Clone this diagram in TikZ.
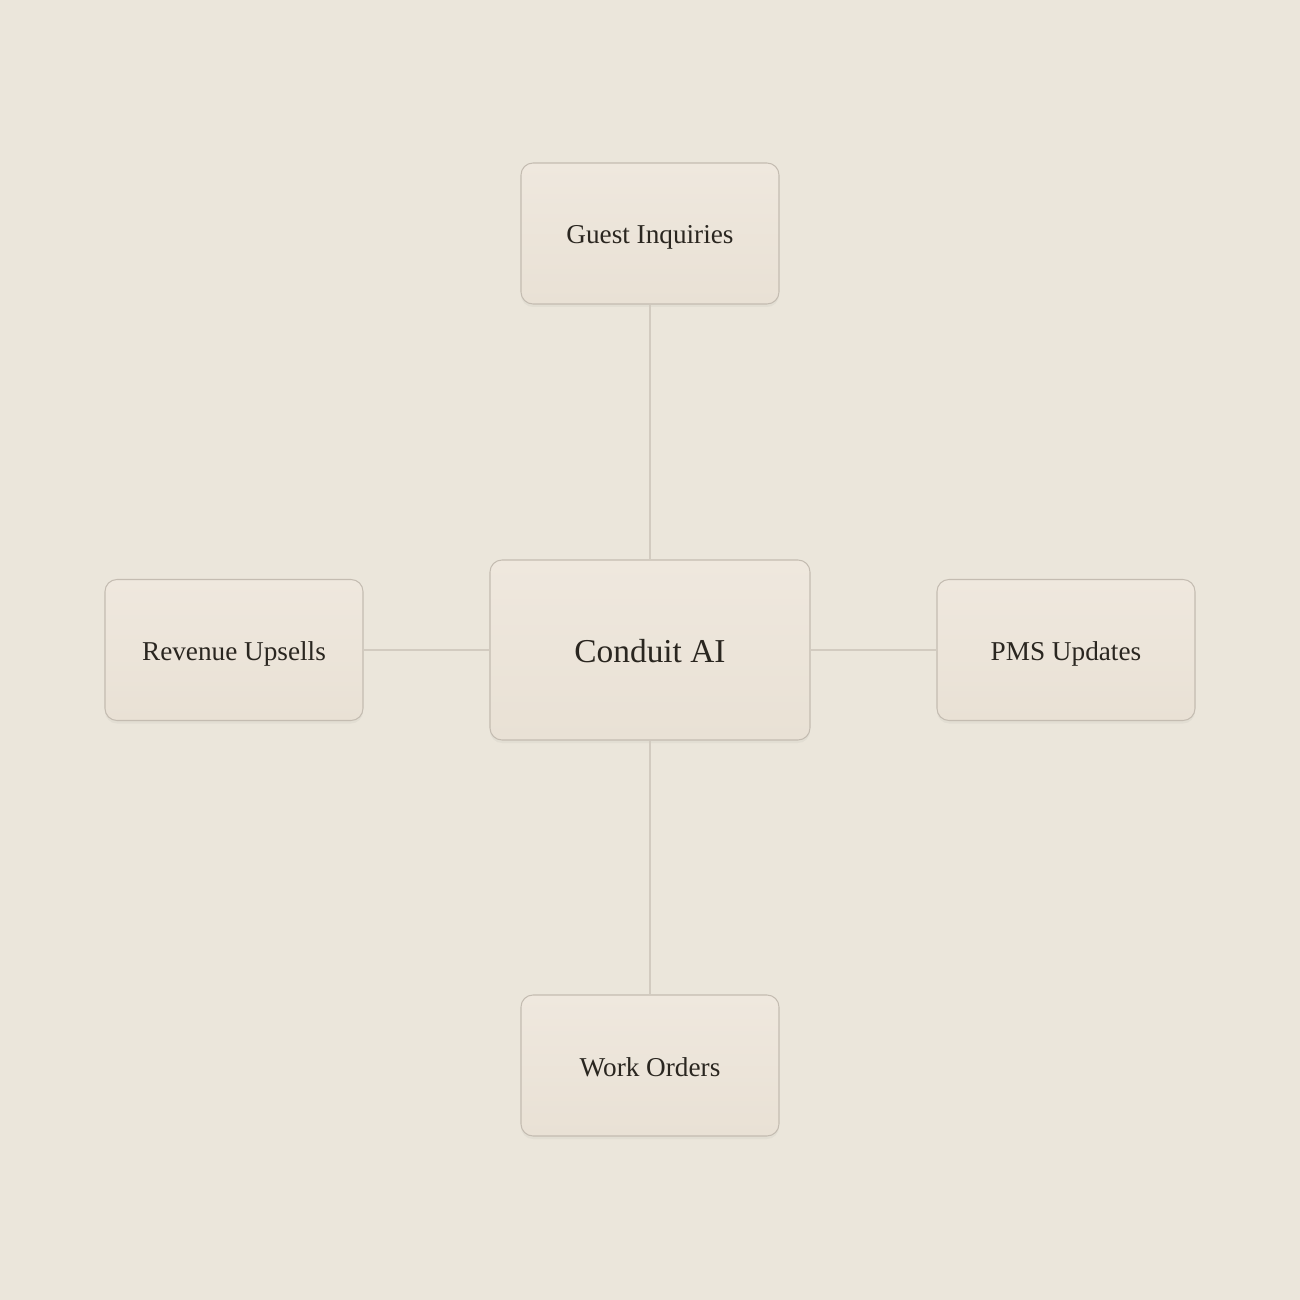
\documentclass[tikz,border=0pt]{standalone}
\usepackage{fontspec}
\setmainfont{Liberation Serif}
\usetikzlibrary{shadows}
\definecolor{paper}{HTML}{EBE6DB}
\definecolor{cardtop}{HTML}{EFE8DE}
\definecolor{cardbot}{HTML}{E9E1D5}
\definecolor{cardline}{HTML}{C4BCB1}
\definecolor{wire}{HTML}{D2CBC0}
\definecolor{ink}{HTML}{2A2620}

\begin{document}
\begin{tikzpicture}[
  side node/.style={draw=cardline,line width=0.6pt,rounded corners=0.24cm,
    top color=cardtop,bottom color=cardbot,text=ink,
    minimum width=5.16cm,minimum height=2.82cm,font=\fontsize{15.5}{18}\selectfont,
    text height=0.52cm,text depth=0.1cm,
    drop shadow={shadow xshift=0pt,shadow yshift=-0.06cm,opacity=0.08}},
  main node/.style={side node,minimum width=6.4cm,minimum height=3.6cm,
    font=\fontsize{19}{23}\selectfont,text height=0.6cm,text depth=0.12cm}]
  \fill[paper] (-13,-13) rectangle (13,13);
  \useasboundingbox (-13,-13) rectangle (13,13);
  \node[main node]  (hub)   at (0,0)      {Conduit AI};
  \node[side node]  (guest) at (0,8.33)   {Guest Inquiries};
  \node[side node]  (rev)   at (-8.32,0)  {Revenue Upsells};
  \node[side node]  (pms)   at (8.32,0)   {PMS Updates};
  \node[side node]  (work)  at (0,-8.31)  {Work Orders};
  \path[draw=wire,line width=0.6pt]
    (hub) edge (guest)
    (hub) edge (rev)
    (hub) edge (pms)
    (hub) edge (work);
\end{tikzpicture}
\end{document}
